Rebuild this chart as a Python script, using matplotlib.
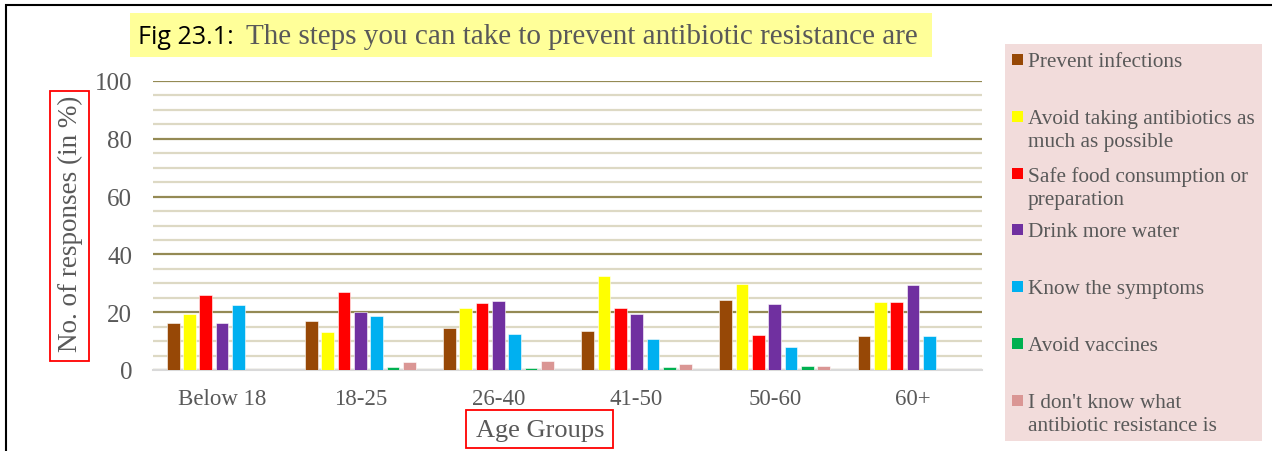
import numpy as np
import matplotlib.pyplot as plt
from matplotlib.patches import Rectangle

groups = ['Below 18', '18-25', '26-40', '41-50', '50-60', '60+']
series = ['Prevent infections',
          'Avoid taking antibiotics as\nmuch as possible',
          'Safe food consumption or\npreparation',
          'Drink more water',
          'Know the symptoms',
          'Avoid vaccines',
          "I don't know what\nantibiotic resistance is"]
colors = ['#974806', '#ffff00', '#ff0000', '#7030a0', '#00b0f0', '#00b050', '#da9694']

prevent = [16.2, 16.8, 14.6, 13.5, 24.3, 11.7]
avoid_ab = [19.3, 13.1, 21.6, 32.4, 29.6, 23.4]
safe_food = [25.8, 27.0, 23.2, 21.6, 12.1, 23.5]
water = [16.2, 20.1, 24.0, 19.3, 22.9, 29.4]
symptoms = [22.5, 18.7, 12.3, 10.6, 8.1, 11.7]
vaccines = [0, 1.2, 0.7, 1.0, 1.4, 0]
dont_know = [0, 2.8, 3.1, 2.0, 1.4, 0]
values = [prevent, avoid_ab, safe_food, water, symptoms, vaccines, dont_know]

serif = ['Liberation Serif', 'DejaVu Serif']
grey = '#595959'

fig = plt.figure(figsize=(12.72, 4.52), dpi=100)
W, H = 1272, 452
# axes box in pixels: left 153, right 982, top 82, bottom 371
ax = fig.add_axes([153 / W, 1 - 371 / H, (982 - 153) / W, (371 - 82) / H])

x = np.arange(len(groups))
step = 0.118
width = 0.092
for i, (name, vals) in enumerate(zip(series, values)):
    ax.bar(x + (i - 3) * step, vals, width, color=colors[i], edgecolor='white',
           linewidth=0.4, zorder=3)

ax.set_xlim(-0.5, len(groups) - 0.5)
ax.set_ylim(0, 100)
ax.set_yticks(np.arange(0, 101, 20))
ax.set_yticks(np.arange(0, 101, 5), minor=True)
ax.grid(axis='y', which='minor', color='#ddd9c4', linewidth=1.6, zorder=1)
ax.grid(axis='y', which='major', color='#948a54', linewidth=1.6, zorder=2)
ax.tick_params(axis='both', which='both', length=0, colors=grey)
ax.tick_params(axis='x', labelsize=16.5, pad=13)
ax.tick_params(axis='y', labelsize=18, pad=15)
ax.set_xticks(x)
ax.set_xticklabels(groups, fontfamily=serif)
for lab in ax.get_yticklabels():
    lab.set_fontfamily(serif)
for s in ['top', 'right', 'left']:
    ax.spines[s].set_visible(False)
ax.spines['bottom'].set_color('#d9d9d9')
ax.spines['bottom'].set_linewidth(1.5)

# y label and x label with red boxes
fig.text(70 / W, 1 - 224 / H, 'No. of responses (in %)', rotation=90, ha='center', va='center',
         fontsize=19.5, color=grey, fontfamily=serif)
fig.patches.append(Rectangle((50 / W, 1 - 362 / H), 39 / W, 270 / H, transform=fig.transFigure,
                             fill=False, edgecolor='red', linewidth=1.3))
fig.text(540 / W, 1 - 431 / H, 'Age Groups', ha='center', va='center',
         fontsize=19, color=grey, fontfamily=serif)
fig.patches.append(Rectangle((466 / W, 1 - 449 / H), 147 / W, 38 / H, transform=fig.transFigure,
                             fill=False, edgecolor='red', linewidth=1.3))

# title on yellow band
fig.patches.append(Rectangle((130 / W, 1 - 58 / H), 802 / W, 44 / H, transform=fig.transFigure,
                             facecolor='#ffff99', edgecolor='none', zorder=0))
fig.text(138 / W, 1 - 37 / H, 'Fig 23.1:', ha='left', va='center', fontsize=18,
         color='black', fontfamily=['Open Sans', 'DejaVu Sans'])
fig.text(246 / W, 1 - 37 / H, 'The steps you can take to prevent antibiotic resistance are',
         ha='left', va='center', fontsize=21, color=grey, fontfamily=serif)

# legend panel
fig.patches.append(Rectangle((1005 / W, 1 - 442 / H), 257 / W, 397 / H, transform=fig.transFigure,
                             facecolor='#f2dcdb', edgecolor='none', zorder=0))
for i, name in enumerate(series):
    yc = 61 + i * 56.8
    fig.patches.append(Rectangle((1012 / W, 1 - (yc + 5) / H), 11 / W, 11 / H,
                                 transform=fig.transFigure, facecolor=colors[i], edgecolor='none'))
    fig.text(1028 / W, 1 - (yc - 8) / H, name, ha='left', va='top', fontsize=15.3,
             color=grey, fontfamily=serif, linespacing=1.3)

# outer frame (top and left edges visible)
fig.patches.append(Rectangle((6 / W, -0.1), 1.2, 1 - 6 / H + 0.1, transform=fig.transFigure,
                             fill=False, edgecolor='black', linewidth=1.5))

fig.savefig('out.png', dpi=100)
